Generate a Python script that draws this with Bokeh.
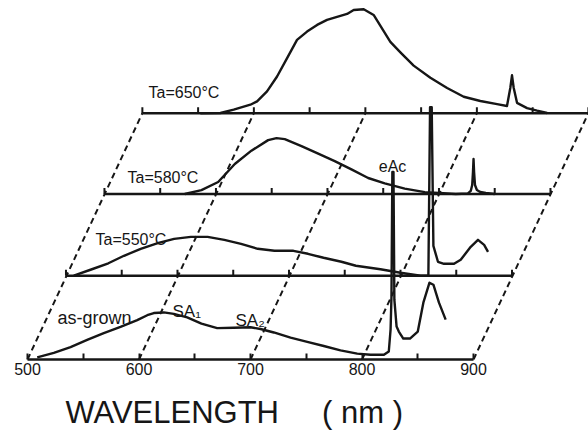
from bokeh.plotting import figure
from bokeh.models import Range1d, FixedTicker, Label
from bokeh.embed import file_html
from bokeh.resources import INLINE

# ---------------- data (wavelength in nm, emission intensity in arb. units) ----------------
asgrown_wl = [508.7, 523.6, 538.6, 553.5, 568.4, 583.4, 598.4, 607.4, 613.3, 622.2, 631.2, 643.2,
              656, 670.1, 685, 700, 709, 720.9, 735.9, 750.9, 765.7, 780.7, 795.7, 807.6, 819.6,
              824, 825.6, 826.4, 827.2, 828.2, 829, 831, 833, 837, 843, 850, 855, 860.5, 864, 869, 875]
asgrown_int = [2.2, 6.7, 12.5, 19.6, 26.4, 32.7, 39.5, 44.4, 46.6, 47.2, 45.7, 42.2,
               36, 31.5, 31.9, 32.3, 30.6, 27.1, 22, 17.6, 13.5, 9.1, 5.9, 4.8, 4.7,
               8, 30, 63, 188, 188, 60, 33, 28, 21, 21, 28, 57, 77, 75, 57, 40]

ta550_wl = [507, 522, 538, 552, 567, 583, 597, 612, 627, 642, 657, 672, 687, 704, 717, 731, 747,
            760, 782, 800, 818, 825, 826.5, 828, 829.5, 833.6, 839, 848, 854, 863, 869.5, 875, 878.5]
ta550_int = [0, 6, 12.5, 20, 27, 33, 37, 39, 39, 36, 32, 27, 25, 25, 22, 18, 14,
             10, 6.5, 3, 0, 0, 169, 169, 30, 14, 12, 12, 16, 29, 36, 31, 24]

ta580_wl = [572, 587, 602, 616.9, 631.8, 646.8, 654.3, 661.7, 676.7, 691.7, 706.5, 721.5, 736.5,
            751.4, 769.3, 787.3, 800, 815, 826, 828.5, 829.8, 830.5, 831, 831.5, 832.3, 834, 837,
            842, 850]
ta580_int = [0, 3.9, 12, 30, 43.4, 54, 56, 55, 48, 40.4, 33, 24.6, 16,
             10.7, 5.3, 1.8, 1, 0, 0.5, 3, 9, 22, 35, 22, 9, 4, 2,
             1, 0]

ta650_wl = [552, 570, 581.9, 596.9, 602.9, 611.8, 620.8, 629.8, 638.7, 647.7, 656.7, 665.6, 677.6,
            683.6, 689.5, 698.5, 707.4, 722.4, 731.4, 743.3, 758.3, 773.3, 788.2, 803.1, 818.1,
            827, 830, 831.5, 833, 836, 845, 854, 863]
ta650_int = [0, 0.2, 3.5, 8.5, 11.8, 21.8, 36.8, 55.2, 73.5, 81.8, 88.5, 93.5, 97.5,
             99.5, 103.5, 104.2, 98.5, 71.5, 61, 47.7, 35.6, 25.2, 16.5, 12.2, 9.1,
             7.2, 25.5, 38, 25.5, 10.4, 5.1, 2.5, 0.2]

series_wl = [asgrown_wl, ta550_wl, ta580_wl, ta650_wl]
series_int = [asgrown_int, ta550_int, ta580_int, ta650_int]
series_names = ["as-grown", "Ta=550°C", "Ta=580°C", "Ta=650°C"]
shift_wl = [0, 34.5, 69, 103]      # lateral (perspective) offset of each trace, nm
shift_int = [0, 84, 166, 247]      # vertical offset of each trace, arb. units

axis_ticks = [500, 600, 700, 800, 900]
minor_ticks = [550, 650, 750, 850]
wl_min, wl_max = 500, 900

INK = "#161616"
FONT = "Liberation Sans"
NB = "\u00a0"

p = figure(width=588, height=432, x_range=Range1d(475.78, 1003.1), y_range=Range1d(0, 360),
           output_backend="svg", toolbar_location=None, y_axis_location=None,
           min_border_left=0, min_border_right=0, min_border_top=0, min_border_bottom=72)
p.xgrid.visible = False
p.ygrid.visible = False
p.outline_line_color = None
p.background_fill_color = "white"
p.border_fill_color = "white"

# bottom (as-grown) wavelength axis
ax = p.xaxis[0]
ax.ticker = FixedTicker(ticks=axis_ticks + minor_ticks)
ax.major_label_overrides = {t: "" for t in minor_ticks}
ax.bounds = (wl_min, wl_max)
ax.major_tick_in = 6
ax.major_tick_out = 0
ax.minor_tick_in = 0
ax.minor_tick_out = 0
ax.axis_line_width = 2.5
ax.axis_line_color = INK
ax.major_tick_line_width = 2
ax.major_tick_line_color = INK
ax.major_label_text_font = FONT
ax.major_label_text_font_size = "16px"
ax.major_label_text_color = INK
ax.major_label_standoff = 3
# trailing non-breaking spaces shift the centred title to the left, as in the original
ax.axis_label = "WAVELENGTH" + NB * 5 + "(" + NB + "nm" + NB + ")" + NB * 14
ax.axis_label_text_font = FONT
ax.axis_label_text_font_size = "31px"
ax.axis_label_text_font_style = "normal"
ax.axis_label_text_color = INK
ax.axis_label_standoff = 17

# dashed perspective guides
top = len(shift_wl) - 1
p.segment(x0=axis_ticks, y0=[0] * len(axis_ticks),
          x1=[t + shift_wl[top] for t in axis_ticks], y1=[shift_int[top]] * len(axis_ticks),
          line_color=INK, line_width=2, line_dash="6 4")

# baselines and ticks of the shifted traces
all_ticks = sorted(axis_ticks + minor_ticks)
for i in range(1, len(shift_wl)):
    p.segment(x0=[wl_min + shift_wl[i]], y0=[shift_int[i]], x1=[wl_max + shift_wl[i]], y1=[shift_int[i]],
              line_color=INK, line_width=2.5)
    p.segment(x0=[t + shift_wl[i] for t in all_ticks], y0=[shift_int[i]] * len(all_ticks),
              x1=[t + shift_wl[i] for t in all_ticks], y1=[shift_int[i] + 6] * len(all_ticks),
              line_color=INK, line_width=2)

# spectra
for wl, it, dx, dy in zip(series_wl, series_int, shift_wl, shift_int):
    p.line([w + dx for w in wl], [v + dy for v in it], line_color=INK, line_width=2.4,
           line_join="round")

# annotations
notes = [
    ("Ta=650°C", 608.5, 268, 16, "left"),
    ("Ta=580°C", 589.7, 183, 16, "left"),
    ("Ta=550°C", 561.0, 120, 16, "left"),
    ("as-grown", 526.9, 42, 18, "left"),
    ("SA₁", 630.0, 48, 17, "left"),
    ("SA₂", 686.5, 39, 17, "left"),
    ("eAc", 827.4, 194, 16, "center"),
]
for txt, x, y, fs, al in notes:
    p.add_layout(Label(x=x, y=y, text=txt, text_font=FONT, text_font_size=f"{fs}px",
                       text_color=INK, text_align=al, text_baseline="alphabetic"))

open("out.html", "w").write(file_html(p, INLINE))
